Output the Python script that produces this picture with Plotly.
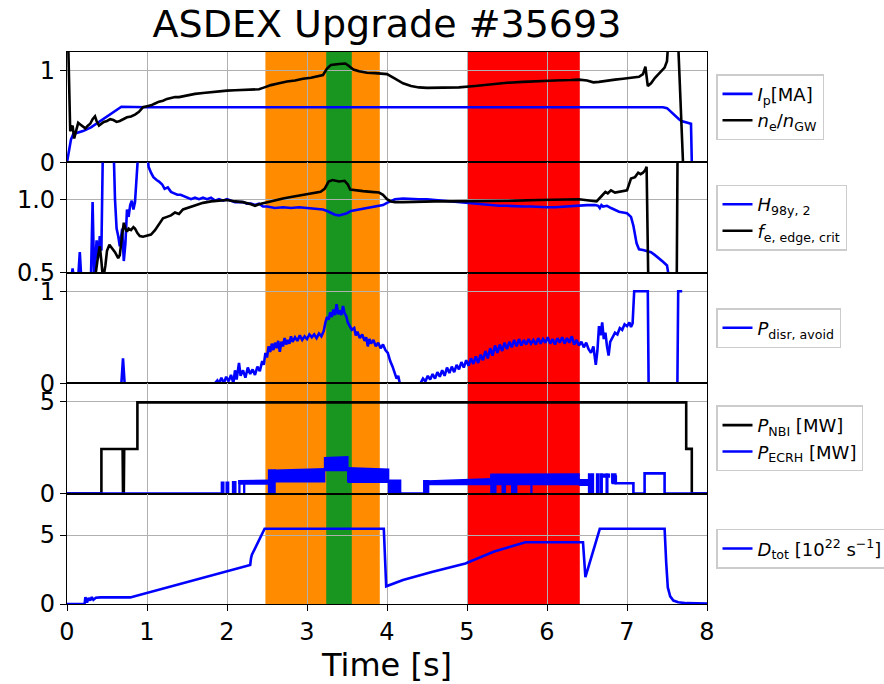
import plotly.graph_objects as go
from plotly.subplots import make_subplots

# ---------------- data ----------------
ip_t = [0.00, 0.02, 0.05, 0.08, 0.20, 0.30, 0.40, 0.50, 0.60, 0.68, 1.00, 2.00, 3.00, 4.00, 5.00, 6.00, 7.00,
        7.45, 7.50, 7.55, 7.60, 7.65, 7.68, 7.72, 7.76, 7.80, 7.81, 8.00]
ip_v = [0.00, 0.10, 0.25, 0.31, 0.34, 0.38, 0.44, 0.50, 0.56, 0.605, 0.60, 0.60, 0.60, 0.60, 0.60, 0.60, 0.60,
        0.60, 0.59, 0.55, 0.50, 0.47, 0.45, 0.44, 0.43, 0.42, 0.00, 0.00]

ne_t = [0.01, 0.04, 0.07, 0.09, 0.11, 0.14, 0.17, 0.20, 0.23, 0.26, 0.29, 0.32, 0.35, 0.37, 0.40, 0.43, 0.46,
        0.50, 0.54, 0.58, 0.62, 0.66, 0.70, 0.75, 0.80, 0.85, 0.90, 0.95, 1.00, 1.05, 1.10, 1.15, 1.20, 1.25,
        1.30, 1.35, 1.40, 1.45, 1.50, 1.60, 1.70, 1.80, 1.90, 2.00, 2.10, 2.20, 2.30, 2.40, 2.45, 2.55, 2.65,
        2.75, 2.85, 2.95, 3.05, 3.15, 3.20, 3.25, 3.30, 3.40, 3.48, 3.52, 3.58, 3.65, 3.75, 3.85, 3.95, 4.00,
        4.10, 4.20, 4.30, 4.40, 4.50, 4.70, 4.90, 5.10, 5.30, 5.50, 5.70, 5.90, 6.10, 6.30, 6.40, 6.50, 6.58,
        6.65, 6.75, 6.85, 6.95, 7.05, 7.15, 7.20, 7.23, 7.26, 7.30, 7.35, 7.42, 7.47, 7.50, 7.53, 7.63, 7.70, 8.00]
ne_v = [1.50, 0.34, 0.40, 0.26, 0.33, 0.43, 0.41, 0.39, 0.37, 0.40, 0.42, 0.47, 0.50, 0.45, 0.40, 0.42, 0.44,
        0.45, 0.47, 0.46, 0.44, 0.45, 0.47, 0.49, 0.50, 0.52, 0.55, 0.60, 0.61, 0.62, 0.64, 0.66, 0.67, 0.69,
        0.70, 0.71, 0.71, 0.72, 0.73, 0.745, 0.755, 0.765, 0.775, 0.78, 0.785, 0.79, 0.79, 0.795, 0.81, 0.84, 0.86,
        0.88, 0.89, 0.91, 0.92, 0.935, 0.95, 1.02, 1.06, 1.07, 1.075, 1.05, 1.01, 0.99, 0.975, 0.97, 0.965, 0.96,
        0.91, 0.86, 0.83, 0.815, 0.81, 0.81, 0.815, 0.83, 0.85, 0.865, 0.875, 0.885, 0.89, 0.895, 0.90, 0.89, 0.87,
        0.875, 0.89, 0.90, 0.91, 0.92, 0.93, 0.96, 1.04, 0.83, 0.86, 0.92, 0.98, 1.03, 1.10, 1.50, 1.50, 0.00, 0.00]

h98_t = [0.00, 0.05, 0.07, 0.09, 0.14, 0.16, 0.18, 0.30, 0.32, 0.34, 0.37, 0.39, 0.41, 0.43, 0.45, 0.58, 0.60,
         0.62, 0.64, 0.66, 0.69, 0.71, 0.73, 0.75, 0.77, 0.79, 0.81, 0.83, 0.85, 0.87, 0.88, 0.90, 0.99, 1.02,
         1.05, 1.08, 1.12, 1.15, 1.19, 1.22, 1.26, 1.30, 1.34, 1.38, 1.42, 1.46, 1.50, 1.55, 1.60, 1.65, 1.70,
         1.75, 1.80, 1.85, 1.90, 1.95, 2.00, 2.05, 2.10, 2.15, 2.20, 2.25, 2.30, 2.35, 2.40, 2.45, 2.50, 2.60,
         2.70, 2.80, 2.90, 3.00, 3.10, 3.20, 3.25, 3.30, 3.35, 3.40, 3.45, 3.50, 3.55, 3.60, 3.70, 3.80, 3.90,
         3.95, 4.00, 4.05, 4.10, 4.20, 4.30, 4.40, 4.50, 4.60, 4.70, 4.80, 4.90, 5.00, 5.10, 5.20, 5.30, 5.40,
         5.50, 5.60, 5.70, 5.80, 5.90, 6.00, 6.10, 6.20, 6.30, 6.40, 6.50, 6.60, 6.64, 6.66, 6.68, 6.70, 6.75,
         6.80, 6.85, 6.90, 6.95, 7.00, 7.05, 7.08, 7.12, 7.15, 7.20, 7.25, 7.30, 7.35, 7.40, 7.45, 7.50, 7.53]
h98_v = [0.35, 0.45, 0.53, 0.45, 0.47, 0.64, 0.45, 0.48, 0.98, 0.45, 0.72, 0.60, 0.75, 0.65, 1.40, 1.40, 1.00,
         0.80, 0.75, 0.68, 0.80, 0.58, 0.70, 0.93, 0.88, 0.96, 0.99, 0.93, 0.98, 1.10, 1.16, 1.40, 1.40, 1.22,
         1.18, 1.15, 1.13, 1.12, 1.10, 1.07, 1.08, 1.05, 1.04, 1.03, 1.03, 1.02, 1.01, 1.00, 1.01, 1.00, 1.01,
         1.00, 1.01, 0.99, 1.00, 0.99, 1.00, 0.99, 0.98, 0.98, 0.98, 0.97, 0.97, 0.96, 0.97, 0.95, 0.95, 0.94,
         0.945, 0.94, 0.945, 0.94, 0.935, 0.93, 0.92, 0.905, 0.895, 0.89, 0.895, 0.905, 0.92, 0.925, 0.935, 0.945, 0.955,
         0.96, 0.975, 0.99, 1.00, 1.005, 1.00, 1.00, 1.00, 0.995, 0.99, 0.99, 0.985, 0.975, 0.97, 0.965, 0.96, 0.955,
         0.955, 0.95, 0.95, 0.95, 0.945, 0.945, 0.945, 0.95, 0.95, 0.955, 0.96, 0.96, 0.955, 0.94, 0.96, 0.95, 0.955,
         0.94, 0.925, 0.915, 0.91, 0.905, 0.88, 0.82, 0.70, 0.66, 0.655, 0.645, 0.64, 0.62, 0.60, 0.575, 0.55, 0.45]

fe_t = [0.34, 0.36, 0.39, 0.41, 0.43, 0.45, 0.48, 0.50, 0.53, 0.56, 0.60, 0.64, 0.66, 0.69, 0.71, 0.73, 0.75,
        0.77, 0.80, 0.83, 0.85, 0.88, 0.91, 0.95, 1.00, 1.05, 1.10, 1.15, 1.20, 1.25, 1.30, 1.35, 1.40, 1.45,
        1.50, 1.55, 1.60, 1.65, 1.70, 1.80, 1.90, 2.00, 2.10, 2.20, 2.30, 2.35, 2.40, 2.50, 2.60, 2.70, 2.80,
        2.90, 3.00, 3.10, 3.17, 3.22, 3.27, 3.32, 3.40, 3.47, 3.51, 3.54, 3.60, 3.70, 3.80, 3.90, 3.95, 4.00,
        4.05, 4.10, 4.20, 4.40, 4.60, 4.80, 5.00, 5.30, 5.60, 5.90, 6.20, 6.40, 6.55, 6.62, 6.68, 6.73, 6.76,
        6.80, 6.85, 6.90, 6.95, 7.00, 7.05, 7.10, 7.14, 7.17, 7.20, 7.23, 7.245, 7.27, 7.62, 7.64, 8.00]
fe_v = [0.45, 0.50, 0.62, 0.68, 0.58, 0.45, 0.55, 0.65, 0.69, 0.67, 0.64, 0.60, 0.62, 0.76, 0.84, 0.80, 0.78,
        0.80, 0.79, 0.81, 0.80, 0.77, 0.75, 0.745, 0.75, 0.76, 0.79, 0.83, 0.87, 0.88, 0.89, 0.91, 0.90, 0.93,
        0.94, 0.95, 0.96, 0.97, 0.975, 0.985, 0.99, 0.995, 0.985, 0.98, 0.965, 0.955, 0.965, 0.98, 0.995, 1.005, 1.015,
        1.025, 1.035, 1.045, 1.05, 1.07, 1.12, 1.13, 1.12, 1.125, 1.10, 1.065, 1.06, 1.055, 1.05, 1.045, 1.03, 1.00,
        0.985, 0.98, 0.98, 0.985, 0.985, 0.985, 0.985, 0.99, 0.99, 0.995, 0.995, 1.00, 0.99, 0.985, 1.02, 1.05, 1.04,
        1.06, 1.045, 1.05, 1.05, 1.06, 1.14, 1.15, 1.18, 1.17, 1.18, 1.20, 1.22, 0.30, 0.30, 2.00, 2.00]

pd_t = [0.00, 0.68, 0.70, 0.72, 1.85, 1.88, 1.90, 1.93, 1.96, 1.99, 2.02, 2.05, 2.08, 2.10, 2.12, 2.15, 2.17,
        2.20, 2.23, 2.26, 2.29, 2.32, 2.35, 2.38, 2.41, 2.44, 2.46, 2.48, 2.50, 2.52, 2.54, 2.56, 2.58, 2.60,
        2.62, 2.64, 2.66, 2.68, 2.70, 2.72, 2.74, 2.76, 2.78, 2.80, 2.82, 2.85, 2.88, 2.91, 2.94, 2.97, 3.00,
        3.03, 3.06, 3.09, 3.12, 3.15, 3.18, 3.21, 3.23, 3.25, 3.27, 3.29, 3.31, 3.33, 3.35, 3.37, 3.39, 3.41,
        3.43, 3.45, 3.47, 3.49, 3.51, 3.53, 3.56, 3.59, 3.61, 3.63, 3.66, 3.69, 3.72, 3.74, 3.76, 3.78, 3.80,
        3.83, 3.86, 3.89, 3.92, 3.95, 3.98, 4.01, 4.04, 4.07, 4.10, 4.12, 4.14, 4.16, 4.42, 4.45, 4.48, 4.51,
        4.54, 4.57, 4.60, 4.63, 4.66, 4.69, 4.72, 4.75, 4.78, 4.81, 4.84, 4.87, 4.90, 4.93, 4.96, 4.99, 5.02,
        5.05, 5.08, 5.11, 5.14, 5.17, 5.20, 5.23, 5.26, 5.29, 5.32, 5.35, 5.38, 5.41, 5.44, 5.47, 5.50, 5.53,
        5.56, 5.59, 5.62, 5.65, 5.68, 5.71, 5.74, 5.77, 5.80, 5.83, 5.86, 5.89, 5.92, 5.95, 5.98, 6.01, 6.04,
        6.07, 6.10, 6.13, 6.16, 6.19, 6.22, 6.25, 6.28, 6.31, 6.34, 6.37, 6.40, 6.43, 6.46, 6.49, 6.52, 6.55,
        6.58, 6.61, 6.63, 6.65, 6.67, 6.69, 6.71, 6.73, 6.75, 6.77, 6.79, 6.82, 6.85, 6.88, 6.91, 6.94, 6.97,
        7.00, 7.03, 7.05, 7.07, 7.09, 7.26, 7.27, 7.63, 7.64, 7.69]
pd_v = [0.00, 0.00, 0.27, 0.00, 0.00, 0.03, 0.00, 0.06, 0.00, 0.07, 0.02, 0.09, 0.00, 0.14, 0.04, 0.22, 0.08,
        0.14, 0.06, 0.17, 0.10, 0.15, 0.09, 0.18, 0.13, 0.24, 0.20, 0.33, 0.28, 0.40, 0.34, 0.43, 0.36, 0.44,
        0.38, 0.46, 0.34, 0.45, 0.40, 0.49, 0.42, 0.47, 0.43, 0.51, 0.45, 0.50, 0.46, 0.52, 0.47, 0.51, 0.48,
        0.53, 0.50, 0.53, 0.49, 0.54, 0.51, 0.57, 0.66, 0.72, 0.69, 0.77, 0.72, 0.80, 0.74, 0.86, 0.75, 0.79,
        0.74, 0.84, 0.76, 0.73, 0.66, 0.62, 0.58, 0.60, 0.52, 0.56, 0.49, 0.53, 0.46, 0.50, 0.40, 0.48, 0.43,
        0.47, 0.40, 0.44, 0.38, 0.42, 0.36, 0.33, 0.24, 0.18, 0.10, 0.05, 0.08, 0.00, 0.00, 0.05, 0.02, 0.08,
        0.04, 0.10, 0.05, 0.12, 0.07, 0.14, 0.08, 0.17, 0.11, 0.18, 0.12, 0.20, 0.15, 0.23, 0.17, 0.25, 0.19,
        0.27, 0.21, 0.29, 0.22, 0.31, 0.25, 0.35, 0.27, 0.38, 0.30, 0.41, 0.33, 0.42, 0.35, 0.44, 0.37, 0.45,
        0.39, 0.47, 0.40, 0.48, 0.41, 0.47, 0.42, 0.48, 0.43, 0.47, 0.42, 0.49, 0.43, 0.48, 0.44, 0.50, 0.43,
        0.48, 0.42, 0.49, 0.44, 0.50, 0.43, 0.49, 0.44, 0.51, 0.42, 0.47, 0.41, 0.45, 0.39, 0.44, 0.37, 0.33,
        0.40, 0.20, 0.35, 0.62, 0.52, 0.66, 0.48, 0.55, 0.40, 0.30, 0.45, 0.50, 0.55, 0.53, 0.60, 0.58, 0.64,
        0.62, 0.66, 0.61, 0.65, 1.00, 1.00, 0.00, 0.00, 1.00, 1.00]

nbi_t = [0.00, 0.43, 0.43, 0.695, 0.70, 0.71, 0.715, 0.88, 0.88, 7.74, 7.74, 7.81, 7.81, 8.00]
nbi_v = [0.00, 0.00, 2.42, 2.42, 0.00, 0.00, 2.42, 2.42, 4.96, 4.96, 2.43, 2.43, 0.00, 0.00]

# ECRH: zero / step parts drawn as a line
ecrh_t = [0.00, 1.93, None, 4.17, 4.46, None, 6.86, 6.86, 7.08, 7.08, 7.22, 7.22, 7.47, 7.47, 8.00]
ecrh_v = [0.00, 0.00, None, 0.00, 0.00, None, 1.00, 0.56, 0.56, 0.00, 0.00, 1.10, 1.10, 0.00, 0.00]
# ECRH: densely modulated parts, read as envelopes (start, end, lower, upper at start, upper at end)
ecrh_env_t0 = [1.93, 1.99, 2.07, 2.15, 2.15, 2.21, 2.52, 2.60, 3.22, 3.51, 4.02, 4.46, 4.52, 5.30, 5.30, 5.44,
               5.56, 5.80, 6.40, 6.52, 6.62, 6.67, 6.67, 6.74, 6.81]
ecrh_env_t1 = [1.96, 2.02, 2.11, 2.52, 2.16, 2.22, 2.60, 3.22, 3.51, 4.02, 4.17, 4.52, 5.30, 6.40, 5.36, 5.48,
               5.62, 5.81, 6.52, 6.58, 6.65, 6.78, 6.69, 6.76, 6.86]
ecrh_env_lo = [0.00, 0.00, 0.00, 0.52, 0.00, 0.00, 0.00, 0.65, 1.25, 0.62, 0.00, 0.00, 0.50, 0.50, 0.00, 0.00,
               0.00, 0.00, 0.45, 0.00, 0.00, 0.90, 0.00, 0.00, 0.55]
ecrh_env_h0 = [0.62, 0.62, 0.65, 0.70, 0.70, 0.70, 1.28, 1.27, 1.95, 1.40, 0.72, 0.70, 0.68, 1.05, 1.00, 1.00,
               1.00, 1.00, 0.75, 1.07, 1.07, 1.05, 1.05, 1.05, 1.07]
ecrh_env_h1 = [0.62, 0.62, 0.65, 0.72, 0.70, 0.70, 1.28, 1.35, 2.00, 1.32, 0.72, 0.70, 0.80, 1.07, 1.00, 1.00,
               1.00, 1.00, 0.75, 1.07, 1.07, 1.05, 1.05, 1.05, 1.07]

dtot_t = [0.00, 0.22, 0.23, 0.25, 0.27, 0.29, 0.31, 0.33, 0.36, 0.42, 0.79, 2.29, 2.30, 2.31, 2.47, 3.96, 3.99,
          4.20, 4.56, 4.98, 5.34, 5.73, 6.45, 6.48, 6.66, 7.47, 7.49, 7.51, 7.54, 7.58, 7.64, 7.75, 8.00]
dtot_v = [0.00, 0.00, 0.50, 0.10, 0.45, 0.25, 0.50, 0.30, 0.45, 0.48, 0.48, 2.83, 3.30, 3.55, 5.45, 5.45, 1.28,
          1.74, 2.31, 2.94, 3.80, 4.48, 4.48, 1.95, 5.45, 5.45, 3.00, 1.20, 0.55, 0.25, 0.12, 0.06, 0.03]

band_start = [2.48, 3.24, 5.01]
band_end = [3.91, 3.56, 6.41]
band_color = ['#ff8c00', '#19961f', '#ff0000']

x_ticks = [0, 1, 2, 3, 4, 5, 6, 7, 8]
# ------------------------------------------------------------------------

BLUE = '#0000ff'
BLACK = '#000000'
LW = 2.6
FONT = 'DejaVu Sans'

fig = make_subplots(rows=5, cols=1, shared_xaxes=True, vertical_spacing=0)

def line(x, y, color, name, legend, row, show=True):
    fig.add_trace(go.Scatter(x=x, y=y, mode='lines', line=dict(color=color, width=LW),
                             name=name, legend=legend, showlegend=show, connectgaps=False,
                             hoverinfo='skip'), row=row, col=1)

line(ip_t, ip_v, BLUE, '<i>I</i><sub>p</sub>[MA]', 'legend', 1)
line(ne_t, ne_v, BLACK, '<i>n</i><sub>e</sub>/<i>n</i><sub>GW</sub>', 'legend', 1)
line(h98_t, h98_v, BLUE, '<i>H</i><sub>98y, 2</sub>', 'legend2', 2)
line(fe_t, fe_v, BLACK, '<i>f</i><sub>e, edge, crit</sub>', 'legend2', 2)
line(pd_t, pd_v, BLUE, '<i>P</i><sub>disr, avoid</sub>', 'legend3', 3)
line(nbi_t, nbi_v, BLACK, '<i>P</i><sub>NBI</sub> [MW]', 'legend4', 4)
line(ecrh_t, ecrh_v, BLUE, '<i>P</i><sub>ECRH</sub> [MW]', 'legend4', 4)

bx, by = [], []
for t0, t1, lo, h0, h1 in zip(ecrh_env_t0, ecrh_env_t1, ecrh_env_lo, ecrh_env_h0, ecrh_env_h1):
    bx += [t0, t0, t1, t1, t0, None]
    by += [lo, h0, h1, lo, lo, None]
fig.add_trace(go.Scatter(x=bx, y=by, mode='lines', fill='toself', fillcolor=BLUE,
                         line=dict(color=BLUE, width=1.5), showlegend=False, legend='legend4',
                         hoverinfo='skip'), row=4, col=1)

line(dtot_t, dtot_v, BLUE, '<i>D</i><sub>tot</sub> [10<sup>22</sup> s<sup>\u22121</sup>]', 'legend5', 5)

for x0, x1, c in zip(band_start, band_end, band_color):
    fig.add_shape(type='rect', xref='x', yref='paper', x0=x0, x1=x1, y0=0, y1=1,
                  fillcolor=c, line=dict(width=0), layer='below')

yranges = [[0, 1.2], [0.5, 1.25], [0, 1.2], [0, 6], [0, 8]]
yticks = [[0, 1], [0.5, 1.0], [0, 1], [0, 5], [0, 5]]
ytext = [['0', '1'], ['0.5', '1.0'], ['0', '1'], ['0', '5'], ['0', '5']]

for i in range(5):
    r = i + 1
    fig.update_xaxes(row=r, col=1, range=[0, 8], tickvals=x_ticks, showgrid=True,
                     gridcolor='#b0b0b0', gridwidth=1, showline=True, linecolor='black',
                     linewidth=1.1, mirror=True, zeroline=False,
                     ticks='outside' if r == 5 else '', ticklen=6, tickwidth=1.3, tickcolor='black',
                     tickfont=dict(family=FONT, size=24, color='black'))
    fig.update_yaxes(row=r, col=1, range=yranges[i], tickvals=yticks[i], ticktext=ytext[i],
                     showgrid=True, gridcolor='#b0b0b0', gridwidth=1, showline=True,
                     linecolor='black', linewidth=1.3, mirror=True, zeroline=False,
                     ticks='outside', ticklen=6, tickwidth=1.3, tickcolor='black',
                     tickfont=dict(family=FONT, size=24, color='black'))

fig.update_xaxes(row=5, col=1, title=dict(text='Time [s]', font=dict(family=FONT, size=32, color='black'),
                                          standoff=6))

leg_common = dict(x=716 / 884, xref='container', xanchor='left', yanchor='middle', bgcolor='white',
                  bordercolor='#cccccc', borderwidth=1.5, tracegroupgap=0,
                  font=dict(family=FONT, size=18, color='black'))
centers = [0.9, 0.7, 0.5, 0.3, 0.1]

fig.update_layout(
    width=884, height=684,
    margin=dict(l=67, r=177, t=52, b=80, autoexpand=False),
    paper_bgcolor='white', plot_bgcolor='rgba(0,0,0,0)',
    font=dict(family=FONT, color='black'),
    title=dict(text='ASDEX Upgrade #35693', x=0.5, xref='paper', xanchor='center',
               y=1 - 24 / 684, yref='container', yanchor='middle',
               font=dict(family=FONT, size=38, color='black')),
    legend=dict(y=centers[0], **leg_common),
    legend2=dict(y=centers[1], **leg_common),
    legend3=dict(y=centers[2], **leg_common),
    legend4=dict(y=centers[3], **leg_common),
    legend5=dict(y=centers[4], **leg_common),
)

fig.write_html('out.html')
